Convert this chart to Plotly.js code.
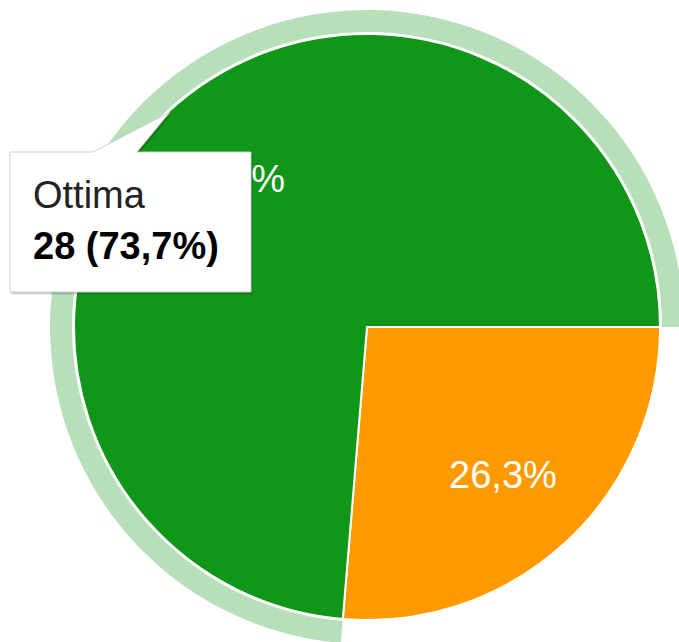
<!DOCTYPE html>
<html><head><meta charset="utf-8">
<script src="https://cdn.plot.ly/plotly-3.0.1.min.js"></script>
<style>html,body{margin:0;padding:0;overflow:hidden;background:#fff}#chart{width:720px;height:680px}</style>
</head><body><div id="chart"></div>
<script>
// ---- data ----
const labels = ['Buona', 'Ottima'];
const values = [10, 28];
const colors = ['#ff9900', '#109618'];
const haloColors = ['rgba(0,0,0,0)', '#b7dfb9'];
const tooltipLabel = 'Ottima';

// ---- layout helpers ----
const W = 720, H = 680;
const CX = 367, CY = 327, R = 293;
function dom(r) { return { x: [(CX - r) / W, (CX + r) / W], y: [1 - (CY + r) / H, 1 - (CY - r) / H] }; }
function px(x) { return x / W; }
function py(y) { return 1 - y / H; }

const total = values.reduce((a, b) => a + b, 0);
const ti = labels.indexOf(tooltipLabel);
const pctStr = (values[ti] / total * 100).toFixed(1).replace('.', ',');
const FONT = 'Liberation Sans, Arial, sans-serif';

const common = { type: 'pie', labels: labels, values: values, sort: false, direction: 'clockwise',
  rotation: 90, hoverinfo: 'none', showlegend: false };

const traces = [
  Object.assign({}, common, { domain: dom(317), hole: 295 / 317,
    marker: { colors: haloColors, line: { width: 0 } }, textinfo: 'none' }),
  Object.assign({}, common, { domain: dom(R),
    marker: { colors: colors, line: { color: '#ffffff', width: 2 } }, textinfo: 'none' }),
  Object.assign({}, common, { domain: dom(R), hole: 0.37,
    marker: { colors: ['rgba(0,0,0,0)', 'rgba(0,0,0,0)'], line: { width: 0 } },
    textinfo: 'percent', texttemplate: '%{percent:.1%}', textposition: 'inside',
    insidetextorientation: 'horizontal',
    textfont: { family: FONT, size: 38, color: '#ffffff' },
    insidetextfont: { family: FONT, size: 38, color: '#ffffff' } })
];

function P(pts) {
  return 'M ' + pts.map(p => px(p[0]) + ',' + py(p[1])).join(' L ') + ' Z';
}
const tipPts = [[10,152],[93,152],[170,112],[137,152],[251,152],[251,292],[10,292]];
const shadowPts = tipPts.map(p => [p[0] + 1, p[1] + 2]);

const layout = {
  width: W, height: H, margin: { l: 0, r: 0, t: 0, b: 0 },
  paper_bgcolor: '#ffffff', separators: ',.',
  shapes: [
    { type: 'path', xref: 'paper', yref: 'paper', layer: 'above', path: P(shadowPts.map(p => [p[0] + 1, p[1] + 1])),
      fillcolor: 'rgba(0,0,0,0.08)', line: { width: 0 } },
    { type: 'path', xref: 'paper', yref: 'paper', layer: 'above', path: P(shadowPts),
      fillcolor: 'rgba(0,0,0,0.12)', line: { width: 0 } },
    { type: 'path', xref: 'paper', yref: 'paper', layer: 'above', path: P(tipPts),
      fillcolor: '#ffffff', line: { color: '#cccccc', width: 1 } }
  ],
  annotations: [
    { xref: 'paper', yref: 'paper', x: px(31), y: py(194.5), xanchor: 'left', yanchor: 'middle',
      showarrow: false, text: tooltipLabel, font: { family: FONT, size: 38, color: '#222222' } },
    { xref: 'paper', yref: 'paper', x: px(31), y: py(245.5), xanchor: 'left', yanchor: 'middle',
      showarrow: false, text: '<b>' + values[ti] + ' (' + pctStr + '%)</b>',
      font: { family: FONT, size: 38, color: '#000000' } }
  ]
};

Plotly.newPlot('chart', traces, layout, { staticPlot: true, displayModeBar: false });
</script></body></html>
